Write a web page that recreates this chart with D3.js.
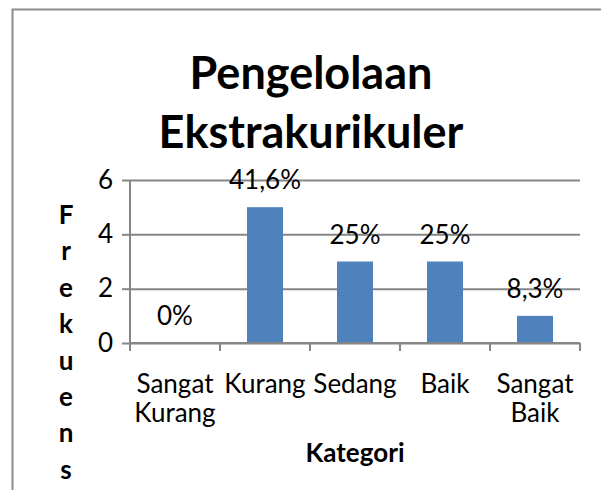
<!DOCTYPE html>
<html>
<head>
<meta charset="utf-8">
<script src="https://cdn.jsdelivr.net/npm/d3@7"></script>
<style>
  html, body { margin: 0; padding: 0; background: #fff; }
  svg { display: block; }
  text { font-family: Lato, "Open Sans", sans-serif; fill: #000; }
</style>
</head>
<body>
<script>
const categories = ["Sangat Kurang", "Kurang", "Sedang", "Baik", "Sangat Baik"];
const frequencies = [0, 5, 3, 3, 1];
const percentLabels = ["0%", "41,6%", "25%", "25%", "8,3%"];
const yTicks = [0, 2, 4, 6];
const titleLines = ["Pengelolaan", "Ekstrakurikuler"];
const xTitle = "Kategori";
const yTitle = "Frekuensi";

(function () {
const W = 601, H = 490;
const svg = d3.select("body").append("svg").attr("width", W).attr("height", H);

// chart frame (extends past the right and bottom edges, as in the reference)
svg.append("rect")
  .attr("x", 12.5).attr("y", 9.5).attr("width", 620).attr("height", 520)
  .attr("fill", "#fff").attr("stroke", "#8c8c8c").attr("stroke-width", 2);

// title
svg.append("g").selectAll("text").data(titleLines).join("text")
  .attr("x", 311).attr("y", (d, i) => 89 + i * 59)
  .attr("text-anchor", "middle")
  .attr("font-size", 45).attr("font-weight", "bold")
  .text(d => d);

const pLeft = 130, pRight = 580, pTop = 180, pBottom = 343;
const x = d3.scaleBand().domain(categories).range([pLeft, pRight])
  .paddingInner(0.6).paddingOuter(0.3);
const y = d3.scaleLinear().domain([0, 6]).range([pBottom, pTop]);

// gridlines
svg.append("g").attr("transform", `translate(${pLeft},0)`)
  .call(d3.axisLeft(y).tickValues(yTicks).tickSize(-(pRight - pLeft)).tickFormat(""))
  .call(g => g.select(".domain").remove())
  .call(g => g.selectAll("line").attr("stroke", "#868686").attr("stroke-width", 2));

// y axis
svg.append("g").attr("transform", `translate(${pLeft},0)`)
  .call(d3.axisLeft(y).tickValues(yTicks).tickSize(8).tickPadding(9).tickFormat(d3.format("d")))
  .call(g => g.select(".domain").attr("stroke", "#868686").attr("stroke-width", 2).attr("d", `M0,${pTop}V${pBottom}`))
  .call(g => g.selectAll("line").attr("stroke", "#868686").attr("stroke-width", 2))
  .call(g => g.selectAll("text").attr("font-size", 26).attr("font-family", "Lato, sans-serif").attr("fill", "#000"));

// bars
svg.append("g").selectAll("rect").data(categories).join("rect")
  .attr("x", d => x(d))
  .attr("y", (d, i) => y(frequencies[i]))
  .attr("width", x.bandwidth())
  .attr("height", (d, i) => y(0) - y(frequencies[i]))
  .attr("fill", "#4F81BD");

// x axis line and ticks at category boundaries
const boundaries = d3.range(categories.length + 1).map(i => x.range()[0] + i * x.step());
const xAxisG = svg.append("g");
xAxisG.append("line").attr("x1", pLeft).attr("x2", pRight).attr("y1", y(0)).attr("y2", y(0))
  .attr("stroke", "#868686").attr("stroke-width", 2);
xAxisG.selectAll("line.tick").data(boundaries).join("line").attr("class", "tick")
  .attr("x1", d => d).attr("x2", d => d).attr("y1", y(0)).attr("y2", y(0) + 8)
  .attr("stroke", "#868686").attr("stroke-width", 2);

// category labels
svg.append("g").selectAll("text").data(categories).join("text")
  .attr("text-anchor", "middle").attr("font-size", 26)
  .each(function (d) {
    const lines = d.split(" ");
    d3.select(this).selectAll("tspan").data(lines).join("tspan")
      .attr("x", x(d) + x.bandwidth() / 2)
      .attr("y", (l, i) => 393 + i * 29)
      .text(l => l);
  });

// data labels
svg.append("g").selectAll("text").data(categories).join("text")
  .attr("x", d => x(d) + x.bandwidth() / 2)
  .attr("y", (d, i) => y(frequencies[i]) - 18)
  .attr("text-anchor", "middle").attr("font-size", 26)
  .text((d, i) => percentLabels[i]);

// x axis title
svg.append("text").attr("x", (pLeft + pRight) / 2).attr("y", 462)
  .attr("text-anchor", "middle").attr("font-size", 26).attr("font-weight", "bold")
  .text(xTitle);

// y axis title: letters stacked vertically; the chart is cropped at the bottom,
// so only letters that land inside the picture are drawn (as in the reference)
const letterStep = 36.4, firstBaseline = 224;
const visibleLetters = yTitle.split("")
  .map((ch, i) => ({ ch, yPos: firstBaseline + i * letterStep }))
  .filter(d => d.yPos < H);
svg.append("g").selectAll("text").data(visibleLetters).join("text")
  .attr("x", 66).attr("y", d => d.yPos)
  .attr("text-anchor", "middle").attr("font-size", 26).attr("font-weight", "bold")
  .text(d => d.ch);
})();
</script>
</body>
</html>
